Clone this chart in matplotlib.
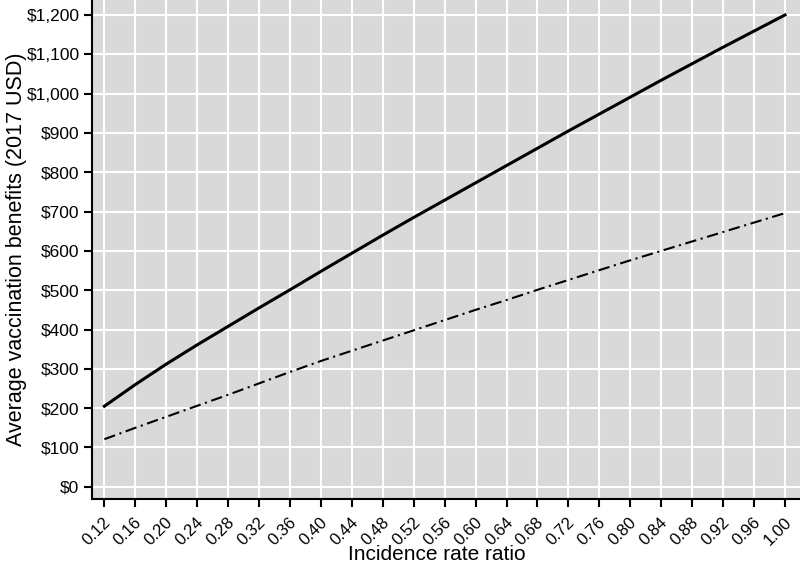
import numpy as np
import matplotlib
matplotlib.use("Agg")
import matplotlib.pyplot as plt
import matplotlib.transforms as mtransforms
from matplotlib.ticker import FuncFormatter

plt.rcParams['font.family'] = ['Liberation Sans', 'DejaVu Sans']

# incidence rate ratio
irr = [0.12, 0.16, 0.20, 0.24, 0.28, 0.32, 0.36, 0.40, 0.44, 0.48, 0.52, 0.56,
       0.60, 0.64, 0.68, 0.72, 0.76, 0.80, 0.84, 0.88, 0.92, 0.96, 1.00]
solid_vals = [205, 260, 312, 361, 408, 455, 501, 548, 594, 640, 685, 729,
              773, 817, 861, 905, 948, 991, 1034, 1076, 1118, 1159, 1200]
dashdot_vals = [121, 150, 178, 206, 234, 263, 292, 320, 346, 372, 398, 424,
                450, 475, 501, 526, 551, 576, 600, 624, 648, 672, 696]

xticks = np.round(np.arange(0.12, 1.001, 0.04), 2)
yticks = list(range(0, 1201, 100))

fig = plt.figure(figsize=(8, 5.63), dpi=100)
ax = fig.add_axes([0.115, 0.1137, 0.885, 0.8863])
ax.set_facecolor('#d9d9d9')

ax.plot(irr, solid_vals, color='black', lw=2.2, solid_joinstyle='round', zorder=3)
ax.plot(irr, dashdot_vals, color='black', lw=1.5,
        linestyle=(0, (5.5, 2.2, 1, 2.2)), zorder=3)

ax.set_xlim(0.104, 1.0194)
ax.set_ylim(-31, 1238)
ax.set_xticks(xticks)
ax.set_yticks(yticks)
ax.yaxis.set_major_formatter(FuncFormatter(lambda v, p: f"${int(v):,}"))

ax.grid(True, color='white', lw=1.5)
ax.set_axisbelow(True)

for s in ['top', 'right']:
    ax.spines[s].set_visible(False)
for s in ['left', 'bottom']:
    ax.spines[s].set_linewidth(1.5)
ax.tick_params(direction='out', length=6, width=1.5, color='black')
ax.tick_params(axis='y', labelsize=12.5, pad=3)
ax.tick_params(axis='x', pad=7)

ax.set_xticklabels([f"{t:.2f}" for t in xticks], rotation=45, ha='right',
                   va='center', rotation_mode='anchor', fontsize=12)
# nudge rotated tick labels a little right and down
shift = mtransforms.ScaledTranslation(4 / 100, -3 / 100, fig.dpi_scale_trans)
for lbl in ax.get_xticklabels():
    lbl.set_transform(lbl.get_transform() + shift)

ax.set_xlabel("Incidence rate ratio", fontsize=15)
ax.xaxis.set_label_coords(0.4866, -0.092)
ax.xaxis.label.set_va('top')
ax.set_ylabel("Average vaccination benefits (2017 USD)", fontsize=15.5)
ax.yaxis.set_label_coords(-0.106, 0.5)
ax.yaxis.label.set_va('center')

fig.savefig("out.png", dpi=100)
